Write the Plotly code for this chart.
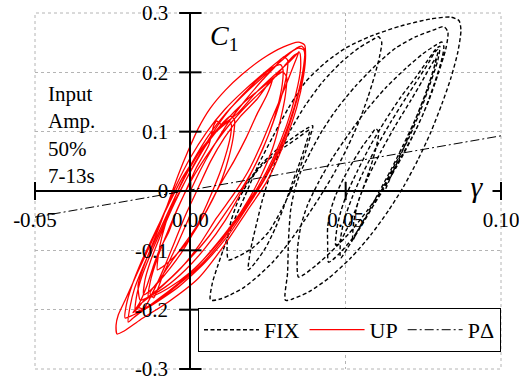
import plotly.graph_objects as go

# ---------------- data ----------------
fix_x = [0.0161, 0.0194, 0.0232, 0.0284, 0.0339, 0.0377, 0.0394,
         0.0387, 0.0371, 0.0348, 0.0323, 0.0290, 0.0252, 0.0200, 0.0155, 0.0123,
         0.0119, 0.0132, 0.0155, 0.0187, 0.0232, 0.0290, 0.0345, 0.0384,
         0.0374, 0.0355, 0.0329, 0.0303, 0.0274, 0.0242, 0.0210, 0.0187,
         0.0194, 0.0216, 0.0232, 0.0252, 0.0284, 0.0323, 0.0371, 0.0426, 0.0484, 0.0542, 0.0587, 0.0606, 0.0616,
         0.0610, 0.0594, 0.0571, 0.0542, 0.0506, 0.0465, 0.0419, 0.0368, 0.0316, 0.0265, 0.0219, 0.0174, 0.0129, 0.0097, 0.0065,
         0.0071, 0.0087, 0.0106, 0.0135, 0.0177, 0.0219, 0.0265, 0.0316, 0.0371, 0.0436, 0.0500, 0.0581, 0.0677, 0.0774, 0.0839, 0.0865, 0.0871,
         0.0861, 0.0839, 0.0810, 0.0774, 0.0732, 0.0687, 0.0639, 0.0581, 0.0516, 0.0445, 0.0381, 0.0329, 0.0306,
         0.0313, 0.0316, 0.0323, 0.0335, 0.0355, 0.0387, 0.0426, 0.0474, 0.0532, 0.0597, 0.0661, 0.0726, 0.0781, 0.0816, 0.0829,
         0.0823, 0.0800, 0.0768, 0.0726, 0.0677, 0.0626, 0.0571, 0.0510, 0.0452, 0.0403, 0.0368, 0.0348,
         0.0345, 0.0355, 0.0377, 0.0413, 0.0458, 0.0510, 0.0568, 0.0629, 0.0694, 0.0748, 0.0790, 0.0810, 0.0816,
         0.0807, 0.0784, 0.0752, 0.0710, 0.0665, 0.0616, 0.0568, 0.0523, 0.0484, 0.0458, 0.0445,
         0.0442, 0.0442, 0.0452, 0.0468, 0.0494, 0.0523, 0.0555, 0.0581, 0.0597, 0.0606,
         0.0600, 0.0587, 0.0568, 0.0548, 0.0529, 0.0506, 0.0484, 0.0468,
         0.0471, 0.0484, 0.0506, 0.0539, 0.0581, 0.0629, 0.0677, 0.0726, 0.0765, 0.0790, 0.0803,
         0.0797, 0.0774, 0.0742, 0.0703, 0.0661, 0.0619, 0.0581, 0.0542, 0.0506, 0.0484,
         0.0484, 0.0497, 0.0523, 0.0555, 0.0597, 0.0645, 0.0694, 0.0736, 0.0768, 0.0787, 0.0797,
         0.0787, 0.0761, 0.0726, 0.0684, 0.0645, 0.0606, 0.0568, 0.0536, 0.0523,
         0.0526, 0.0542, 0.0571, 0.0613, 0.0661, 0.0710, 0.0748, 0.0774, 0.0790,
         0.0781, 0.0755, 0.0719, 0.0684, 0.0652, 0.0626]
fix_y = [0.000, 0.022, 0.047, 0.072, 0.093, 0.106, 0.110,
         0.094, 0.066, 0.032, 0.000, -0.035, -0.069, -0.096, -0.110, -0.116,
         -0.083, -0.049, -0.015, 0.015, 0.044, 0.069, 0.089, 0.103,
         0.083, 0.052, 0.015, -0.024, -0.062, -0.096, -0.120, -0.133,
         -0.099, -0.049, -0.015, 0.019, 0.061, 0.103, 0.145, 0.184, 0.216, 0.241, 0.255, 0.260, 0.251,
         0.229, 0.196, 0.157, 0.116, 0.074, 0.032, -0.008, -0.049, -0.088, -0.120, -0.143, -0.162, -0.175, -0.182, -0.184,
         -0.155, -0.128, -0.099, -0.057, -0.007, 0.044, 0.091, 0.140, 0.184, 0.217, 0.241, 0.261, 0.278, 0.290, 0.293, 0.287, 0.271,
         0.234, 0.191, 0.147, 0.099, 0.052, 0.008, -0.032, -0.074, -0.113, -0.147, -0.170, -0.182, -0.184,
         -0.138, -0.083, -0.032, 0.000, 0.032, 0.066, 0.103, 0.140, 0.177, 0.212, 0.241, 0.260, 0.271, 0.277, 0.268,
         0.241, 0.201, 0.153, 0.103, 0.056, 0.010, -0.032, -0.072, -0.103, -0.126, -0.140, -0.145,
         -0.099, -0.061, -0.024, 0.015, 0.056, 0.096, 0.137, 0.174, 0.207, 0.231, 0.246, 0.251, 0.243,
         0.217, 0.179, 0.133, 0.086, 0.042, -0.002, -0.042, -0.079, -0.103, -0.116, -0.120,
         -0.088, -0.061, -0.032, -0.007, 0.022, 0.049, 0.076, 0.094, 0.105, 0.099,
         0.078, 0.052, 0.022, -0.007, -0.035, -0.062, -0.083, -0.091,
         -0.066, -0.035, -0.002, 0.035, 0.078, 0.120, 0.158, 0.192, 0.221, 0.239, 0.244,
         0.221, 0.184, 0.137, 0.089, 0.047, 0.005, -0.032, -0.066, -0.096, -0.113,
         -0.079, -0.046, -0.008, 0.030, 0.072, 0.116, 0.157, 0.191, 0.217, 0.234, 0.238,
         0.212, 0.170, 0.123, 0.076, 0.035, -0.003, -0.040, -0.069, -0.083,
         -0.052, -0.015, 0.022, 0.066, 0.111, 0.153, 0.187, 0.211, 0.224,
         0.201, 0.160, 0.113, 0.069, 0.032, 0.000]

up_x = [0.0000, 0.0032, 0.0071, 0.0123, 0.0177, 0.0232, 0.0277, 0.0300, 0.0313,
        0.0310, 0.0290, 0.0258, 0.0216, 0.0168, 0.0113, 0.0048, -0.0016, -0.0081, -0.0129, -0.0161,
        -0.0168, -0.0145, -0.0113, -0.0074, -0.0039, -0.0006, 0.0026, 0.0065, 0.0113, 0.0168, 0.0232, 0.0300, 0.0348, 0.0368,
        0.0371, 0.0365, 0.0342, 0.0300, 0.0245, 0.0181, 0.0103, 0.0026, -0.0071, -0.0161, -0.0213, -0.0236,
        -0.0239, -0.0232, -0.0210, -0.0174, -0.0129, -0.0087, -0.0045, 0.0000, 0.0052, 0.0110, 0.0174, 0.0242, 0.0306, 0.0348, 0.0365,
        0.0368, 0.0355, 0.0329, 0.0290, 0.0242, 0.0187, 0.0123, 0.0048, -0.0039, -0.0129, -0.0184, -0.0210,
        -0.0206, -0.0187, -0.0155, -0.0113, -0.0071, -0.0026, 0.0023, 0.0071, 0.0110, 0.0129, 0.0142,
        0.0139, 0.0126, 0.0103, 0.0071, 0.0032, -0.0010, -0.0052, -0.0090, -0.0106,
        -0.0103, -0.0090, -0.0065, -0.0032, 0.0010, 0.0058, 0.0116, 0.0181, 0.0245, 0.0303, 0.0342, 0.0358, 0.0368,
        0.0365, 0.0348, 0.0319, 0.0281, 0.0232, 0.0177, 0.0113, 0.0042, -0.0039, -0.0113, -0.0161, -0.0177,
        -0.0174, -0.0158, -0.0129, -0.0090, -0.0048, 0.0000, 0.0052, 0.0110, 0.0174, 0.0232, 0.0277, 0.0297, 0.0310,
        0.0306, 0.0290, 0.0265, 0.0229, 0.0187, 0.0135, 0.0071, 0.0000, -0.0071, -0.0119, -0.0135,
        -0.0129, -0.0106, -0.0071, -0.0032, 0.0013, 0.0065, 0.0123, 0.0187, 0.0252, 0.0303, 0.0335, 0.0352,
        0.0355, 0.0339, 0.0310, 0.0268, 0.0219, 0.0161, 0.0090, 0.0016, -0.0065, -0.0142, -0.0184, -0.0200,
        -0.0194, -0.0180, -0.0150, -0.0115, -0.0080, -0.0040, 0.0000, 0.0040, 0.0080, 0.0110, 0.0125, 0.0132,
        0.0130, 0.0118, 0.0098, 0.0070, 0.0038, 0.0005, -0.0030, -0.0065, -0.0100, -0.0130, -0.0150,
        -0.0146, -0.0128, -0.0100, -0.0068, -0.0030, 0.0012, 0.0060, 0.0112, 0.0168, 0.0222, 0.0265, 0.0290, 0.0298,
        0.0296, 0.0280, 0.0252, 0.0215, 0.0170, 0.0120, 0.0062, 0.0000, -0.0060, -0.0110, -0.0140, -0.0152,
        -0.0165, -0.0185, -0.0165, -0.0140, -0.0118, -0.0100, -0.0070, -0.0045, -0.0015, 0.0020, 0.0060, 0.0075, 0.0085,
        0.0100, 0.0150, 0.0210, 0.0270, 0.0320, 0.0345,
        0.0350, 0.0335, 0.0305, 0.0265, 0.0225, 0.0185, 0.0140, 0.0085, 0.0030, -0.0030, -0.0090, -0.0140, -0.0170,
        -0.0150, -0.0120, -0.0085, -0.0050, -0.0015, 0.0025, 0.0065, 0.0110, 0.0160, 0.0215, 0.0250, 0.0265, 0.0260,
        0.0245, 0.0215, 0.0180, 0.0140, 0.0095, 0.0050, 0.0000, -0.0055, -0.0100, -0.0130,
        -0.0118, -0.0087, -0.0042, 0.0000]
up_y = [0.000, 0.035, 0.072, 0.116, 0.153, 0.187, 0.212, 0.226, 0.221,
        0.196, 0.153, 0.103, 0.052, 0.002, -0.049, -0.096, -0.133, -0.162, -0.177, -0.184,
        -0.158, -0.120, -0.078, -0.024, 0.027, 0.069, 0.106, 0.140, 0.170, 0.197, 0.223, 0.243, 0.251, 0.246,
        0.229, 0.196, 0.140, 0.078, 0.015, -0.035, -0.096, -0.147, -0.187, -0.217, -0.236, -0.241,
        -0.226, -0.209, -0.184, -0.142, -0.091, -0.040, 0.010, 0.056, 0.099, 0.137, 0.170, 0.201, 0.228, 0.241, 0.238,
        0.217, 0.179, 0.128, 0.072, 0.022, -0.024, -0.074, -0.120, -0.162, -0.194, -0.209, -0.214,
        -0.192, -0.158, -0.116, -0.069, -0.024, 0.022, 0.061, 0.094, 0.118, 0.126, 0.120,
        0.094, 0.061, 0.022, -0.015, -0.052, -0.086, -0.111, -0.128, -0.133,
        -0.108, -0.074, -0.032, 0.010, 0.052, 0.093, 0.132, 0.167, 0.197, 0.224, 0.241, 0.244, 0.238,
        0.212, 0.167, 0.116, 0.066, 0.015, -0.029, -0.076, -0.120, -0.158, -0.187, -0.201, -0.204,
        -0.180, -0.147, -0.108, -0.062, -0.015, 0.032, 0.078, 0.116, 0.150, 0.175, 0.194, 0.201, 0.192,
        0.162, 0.120, 0.072, 0.027, -0.015, -0.057, -0.099, -0.137, -0.164, -0.177, -0.180,
        -0.153, -0.113, -0.066, -0.019, 0.027, 0.069, 0.110, 0.147, 0.180, 0.211, 0.229, 0.233,
        0.207, 0.162, 0.111, 0.057, 0.008, -0.037, -0.086, -0.130, -0.167, -0.197, -0.214, -0.221,
        -0.195, -0.165, -0.125, -0.085, -0.045, 0.000, 0.040, 0.074, 0.098, 0.112, 0.118, 0.112,
        0.095, 0.068, 0.035, -0.002, -0.040, -0.075, -0.105, -0.130, -0.152, -0.168, -0.175,
        -0.150, -0.118, -0.080, -0.040, 0.002, 0.045, 0.088, 0.128, 0.162, 0.190, 0.208, 0.213, 0.205,
        0.180, 0.140, 0.095, 0.050, 0.008, -0.032, -0.075, -0.113, -0.145, -0.168, -0.180, -0.186,
        -0.195, -0.205, -0.190, -0.160, -0.125, -0.100, -0.070, -0.035, 0.000, 0.040, 0.078, 0.110, 0.118,
        0.112, 0.130, 0.165, 0.195, 0.218, 0.232, 0.235,
        0.215, 0.175, 0.125, 0.075, 0.032, -0.005, -0.045, -0.090, -0.130, -0.160, -0.182, -0.195, -0.198,
        -0.170, -0.130, -0.085, -0.040, 0.005, 0.050, 0.090, 0.125, 0.155, 0.180, 0.190, 0.180, 0.160,
        0.130, 0.090, 0.050, 0.010, -0.035, -0.075, -0.115, -0.150, -0.172, -0.180,
        -0.140, -0.090, -0.040, 0.010]

pdelta_x = [-0.05, 0.10]
pdelta_y = [-0.044, 0.093]

x_ticks = [-0.05, 0.0, 0.05, 0.10]
x_tick_labels = ["-0.05", "0.00", "0.05", "0.10"]
y_ticks = [-0.3, -0.2, -0.1, 0.0, 0.1, 0.2, 0.3]
y_tick_labels = ["-0.3", "-0.2", "-0.1", "0", "0.1", "0.2", "0.3"]

SERIF = "Liberation Serif"
GRID = "#b4b4b4"

fig = go.Figure()

fig.add_trace(go.Scatter(x=fix_x, y=fix_y, mode="lines", name="FIX",
                         line=dict(color="black", width=1.4, dash="4px,2.5px",
                                   shape="spline", smoothing=0.7)))
fig.add_trace(go.Scatter(x=up_x, y=up_y, mode="lines", name="UP",
                         line=dict(color="#ff0000", width=1.3, shape="spline", smoothing=0.6)))
fig.add_trace(go.Scatter(x=pdelta_x, y=pdelta_y, mode="lines", name="P\u0394",
                         line=dict(color="black", width=1, dash="9px,3px,2px,3px")))

# tick marks crossing the axes at the origin
fig.add_trace(go.Scatter(x=[0.0] * len(y_ticks), y=y_ticks, mode="markers", showlegend=False,
                         hoverinfo="skip", cliponaxis=False,
                         marker=dict(symbol="line-ew", size=16, line=dict(color="black", width=2))))
fig.add_trace(go.Scatter(x=x_ticks, y=[0.0] * len(x_ticks), mode="markers", showlegend=False,
                         hoverinfo="skip", cliponaxis=False,
                         marker=dict(symbol="line-ns", size=13, line=dict(color="black", width=2))))

fig.update_layout(
    width=519, height=383,
    margin=dict(l=35, r=18, t=13, b=14),
    paper_bgcolor="white", plot_bgcolor="white",
    font=dict(family=SERIF, size=21, color="black"),
    showlegend=True,
    legend=dict(orientation="h", x=1, xanchor="right", y=0.048, yanchor="bottom",
                bgcolor="white", bordercolor="black", borderwidth=1,
                font=dict(family=SERIF, size=22, color="black"),
                itemwidth=55, traceorder="normal"),
    xaxis=dict(range=[-0.05, 0.10], tickvals=x_ticks, ticktext=x_tick_labels,
               showgrid=True, gridcolor=GRID, griddash="dot", gridwidth=1,
               zeroline=False, showline=True, linecolor="black", linewidth=2,
               anchor="free", position=0.5, ticks="", ticklabelstandoff=10,
               ticklabeloverflow="allow",
               tickfont=dict(family=SERIF, size=21, color="black"), automargin=False),
    yaxis=dict(range=[-0.3, 0.3], tickvals=y_ticks, ticktext=y_tick_labels,
               showgrid=True, gridcolor=GRID, griddash="dot", gridwidth=1,
               zeroline=False, showline=True, linecolor="black", linewidth=2,
               anchor="free", position=1/3, ticks="", ticklabelstandoff=17,
               ticklabeloverflow="allow",
               tickfont=dict(family=SERIF, size=21, color="black"), automargin=False),
    shapes=[dict(type="rect", xref="paper", yref="paper", x0=0, x1=1, y0=0, y1=1,
                 line=dict(color=GRID, width=1, dash="dot"), layer="below")],
    annotations=[
        dict(text="<i>C</i><sub>1</sub>", x=0.405, y=0.985, xref="paper", yref="paper",
             xanchor="center", yanchor="top",
             showarrow=False, font=dict(family=SERIF, size=28, color="black")),
        dict(text="Input<br>Amp.<br>50%<br>7-13s", x=0.024, y=0.657, xref="paper", yref="paper",
             xanchor="left", yanchor="middle", align="left", showarrow=False,
             font=dict(family=SERIF, size=21, color="black")),
        dict(text="<i>\u03b3</i>", x=0.9485, y=0.514, xref="paper", yref="paper",
             xanchor="center", yanchor="middle",
             showarrow=False, bgcolor="white", width=28,
             font=dict(family=SERIF, size=30, color="black")),
    ],
)

# remove the browser's default 8px page margin so the figure fills the window exactly
fig.write_html("out.html", config={"displayModeBar": False},
               post_script="document.body.style.margin='0';")
